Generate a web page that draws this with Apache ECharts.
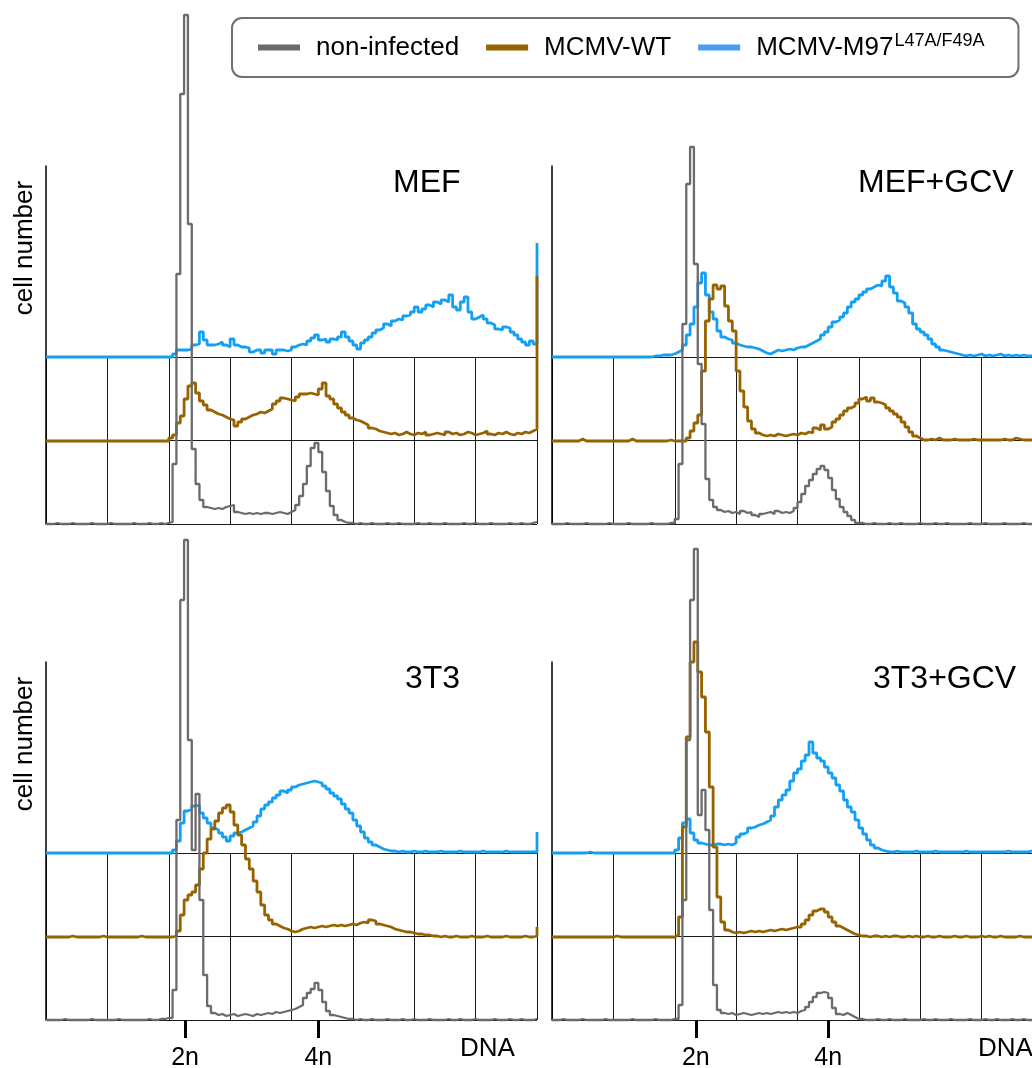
<!DOCTYPE html>
<html>
<head>
<meta charset="utf-8">
<script src="https://cdn.jsdelivr.net/npm/echarts@6/dist/echarts.min.js"></script>
<style>
html,body{margin:0;padding:0;background:#fff;}
#chart{width:1032px;height:1068px;}
</style>
</head>
<body>
<div id="chart"></div>
<script>
// ---------- DATA (histogram heights per 2-channel bin, 0..256 channels; 129 points) ----------
const panelTitles = ['MEF', 'MEF+GCV', '3T3', '3T3+GCV'];
const seriesNames = ['non-infected', 'MCMV-WT', 'MCMV-M97'];
const mutantSuperscript = 'L47A/F49A';
const yTitle = 'cell number';
const xTitle = 'DNA';
const tickLabels = ['2n', '4n'];
const tickValuesLeft = [72.5, 142];
const tickValuesRight = [75, 144];

// MEF
const mefNon = [0,0,1,0,0,0,1,0,0,0,0,1,0,0,0,0,1,0,0,0,0,0,1,0,0,0,1,0,0,1,0,1,
  2,60,250,430,509,300,75,40,24,17,16,15,16,15,17,18,
  19,12,11,10,11,10,11,10,11,11,10,11,12,11,10,12,
  14,19,28,40,58,76,81,72,52,33,18,9,4,2,1,1,
  0,1,0,0,1,0,0,0, 1,0,0,1,0,0,0,0, 1,0,0,1,0,0,0,1, 0,0,0,0,1,0,0,1, 0,0,0,1,0,0,0,0, 1,0,0,1,0,0,1,2,
  2];
const mefWT = [0,0,0,0,0,0,0,0,0,0,0,0,0,0,0,0,0,0,0,0,0,0,0,0,0,0,0,0,0,0,0,0,
  3,6,18,25,42,55,58,48,40,36,31,29,27,26,24,22,
  21,15,19,22,24,26,27,29,28,30,32,37,40,43,42,41,
  40,44,47,47,48,47,46,52,58,45,42,37,33,29,26,23,
  21,20,18,16,13,12,10,9,8,7,8,6,7,9,7,6,
  8,7,9,6,7,8,7,6,9,7,8,6,7,9,8,6,
  7,8,10,7,6,8,7,9,7,6,8,7,9,8,10,12,
  165];
const mefMut = [0,0,0,0,0,0,0,0,0,0,0,0,0,0,0,0,0,0,0,0,0,0,0,0,0,0,0,0,0,0,0,0,
  0,3,7,7,7,8,12,13,25,17,12,12,13,15,12,10,
  18,12,10,10,9,5,7,7,4,7,7,3,7,7,6,7,
  10,12,13,12,16,19,22,17,18,15,18,17,20,25,20,16,
  12,8,14,17,20,24,27,29,33,31,36,38,37,41,42,45,
  50,45,48,52,50,55,53,57,55,62,50,47,55,60,45,38,
  40,42,38,34,32,28,27,30,29,25,22,18,15,12,16,13,
  114];

// MEF + GCV
const gcvNon = [0,0,0,1,0,0,0,0,1,0,0,0,0,0,1,0,0,0,0,1,0,0,0,0,0,1,0,0,0,0,1,1,
  5,60,200,340,377,260,160,100,45,24,17,14,12,13,11,12,
  10,13,11,12,9,7,10,11,12,10,13,11,12,11,13,16,
  22,30,38,44,50,55,58,54,46,34,25,17,12,8,4,1,
  1,0,0,1,0,0,0,1, 0,0,1,0,0,0,0,1, 0,0,0,1,0,0,1,0, 0,0,0,0,1,0,0,0, 1,0,0,0,0,1,0,0, 0,0,1,0,0,0,0,1,
  1];
const gcvWT = [0,0,0,0,0,0,0,2,0,0,0,0,0,0,0,0,0,0,0,0,2,0,0,0,0,0,0,0,0,0,1,0,
  0,0,0,3,10,18,26,70,120,142,156,152,155,135,120,110,
  70,50,34,20,12,8,6,5,6,5,7,6,5,6,7,6,
  8,7,9,8,13,11,16,12,14,19,22,26,30,33,35,38,
  42,44,40,43,39,38,36,33,30,27,24,19,14,9,5,3,
  1,1,2,1,3,1,1,1,2,1,1,1,1,2,1,1,
  1,1,1,1,1,2,1,1,3,2,1,1,1,1,1,1,
  1];
const gcvMut = [0,0,0,0,0,0,0,0,0,0,0,0,0,0,0,0,0,0,0,0,0,0,0,0,0,0,1,1,2,2,2,3,
  5,7,12,22,33,50,74,84,62,45,38,26,20,18,17,14,
  12,11,10,10,9,8,6,4,3,5,7,6,7,8,7,9,
  10,10,12,14,16,18,22,25,30,35,37,40,44,50,55,58,
  62,65,68,70,72,71,76,81,70,64,56,54,50,44,33,28,
  25,22,18,13,10,7,6,5,4,3,2,1,2,1,2,3,
  1,2,1,2,3,1,2,1,2,1,2,1,1,2,1,2,
  2];

// 3T3
const t3Non = [0,0,0,0,1,0,0,0,0,0,0,1,0,0,0,0,0,0,1,0,0,0,0,0,0,0,1,0,0,1,1,2,
  2,30,200,420,480,280,170,226,120,45,14,7,5,6,4,5,
  6,4,5,6,5,4,6,5,6,7,6,8,7,8,9,10,
  11,13,15,22,27,31,37,30,18,9,5,4,3,2,1,1,
  0,1,0,0,1,0,0,0, 1,0,0,0,1,0,0,1, 0,0,0,1,0,0,0,0, 1,0,0,1,0,0,0,1, 0,0,0,0,1,0,0,0, 1,0,0,1,0,0,0,1,
  1];
const t3WT = [0,0,0,0,0,0,1,0,0,0,0,0,0,0,1,0,0,0,0,0,0,0,0,0,1,0,0,0,0,0,0,0,
  0,1,6,22,37,42,45,52,68,84,98,108,116,124,129,132,
  125,112,102,92,78,68,56,45,32,22,17,13,11,9,8,6,
  5,6,8,9,10,9,10,11,10,11,12,11,12,11,12,13,
  12,14,15,14,17,16,13,12,11,10,8,7,6,5,5,4,
  3,3,2,2,1,1,0,1,0,0,1,0,0,0,1,0,
  0,0,1,0,0,0,0,1,0,0,0,0,1,0,0,1,
  10];
const t3Mut = [0,0,0,0,0,0,0,0,0,0,0,0,0,0,0,0,0,0,0,0,0,0,0,0,0,0,0,0,0,0,0,0,
  0,3,12,30,42,44,47,48,40,35,30,25,23,20,16,12,
  17,20,21,23,25,27,31,37,44,48,51,55,58,62,60,63,
  66,68,69,70,71,72,71,70,67,64,60,57,54,49,44,40,
  33,27,21,15,11,8,6,4,3,2,2,1,2,1,1,2,
  1,1,2,1,1,1,2,1,1,1,1,2,1,1,1,1,
  1,2,1,1,1,1,1,2,1,1,1,1,1,1,1,1,
  21];

// 3T3 + GCV
const t3gNon = [0,0,1,0,0,0,0,1,0,0,0,0,0,1,0,0,0,0,0,0,1,0,0,0,0,0,1,0,0,0,0,1,
  1,15,120,280,420,471,205,230,190,110,35,10,7,6,7,5,
  6,7,6,5,6,7,6,7,6,7,8,7,8,7,8,7,
  9,10,13,18,23,27,28,27,22,12,6,5,7,5,3,1,
  1,0,0,0,1,0,0,1, 0,0,0,1,0,0,0,0, 1,0,0,1,0,0,0,1, 0,0,0,0,1,0,0,0, 1,0,0,1,0,0,0,1, 0,0,1,0,0,0,1,1,
  1];
const t3gWT = [0,0,0,0,0,0,0,0,0,0,0,0,0,0,0,0,1,0,0,0,0,0,0,0,0,0,0,0,0,0,0,0,
  2,20,110,200,275,295,265,240,205,150,90,40,15,7,5,4,
  5,4,5,6,5,6,5,6,7,6,7,8,7,8,9,10,
  10,13,17,22,26,28,28,25,20,15,11,9,7,5,3,2,
  1,1,0,1,1,0,1,0,1,1,0,0,1,0,1,0,
  0,1,0,0,1,0,0,0,1,0,0,1,0,0,0,1,
  0,1,0,0,1,0,0,0,0,1,0,0,0,1,0,1,
  1];
const t3gMut = [0,0,0,0,0,0,0,0,0,1,0,0,0,0,0,0,0,0,0,0,0,0,0,0,0,0,0,0,0,0,0,0,
  3,15,30,34,20,13,10,9,8,8,9,9,8,9,8,10,
  16,19,21,25,26,28,29,31,33,37,46,53,58,63,72,80,
  84,92,98,111,100,95,92,86,80,75,68,62,53,46,41,33,
  25,19,13,8,5,3,2,1,1,2,1,1,1,1,2,1,
  1,1,1,2,1,1,1,1,1,1,1,2,1,1,1,1,
  1,1,1,1,1,1,2,1,1,1,1,1,2,1,1,1,
  1];

// ---------- LAYOUT / STYLE ----------
const BIN = 2;            // channels per bin
const XMAX = 256;         // channels across the 8 grid columns
const YMAX = 358;         // axis height in count units
const OFF_WT = 83;        // vertical offset of the WT trace
const OFF_MUT = 167;      // vertical offset of the mutant trace
const COLORS = {non: '#6b6b6b', wt: '#976300', mut: '#14a0f2', mutLegend: '#4a9bf5'};
const FONT = '"Liberation Sans", Arial, Helvetica, sans-serif';

const panels = [
  {title: panelTitles[0], left: 46, top: 166, non: mefNon, wt: mefWT, mut: mefMut, ticks: null, titleX: 393},
  {title: panelTitles[1], left: 552, top: 166, non: gcvNon, wt: gcvWT, mut: gcvMut, ticks: null, titleX: 858},
  {title: panelTitles[2], left: 46, top: 662, non: t3Non, wt: t3WT, mut: t3Mut, ticks: tickValuesLeft, titleX: 405},
  {title: panelTitles[3], left: 552, top: 662, non: t3gNon, wt: t3gWT, mut: t3gMut, ticks: tickValuesRight, titleX: 873}
];
const PW = 491;

function build(h, off) { return h.map((v, i) => [i * BIN, v + off]); }

const grid = [], xAxis = [], yAxis = [], series = [], graphic = [];
panels.forEach((p, k) => {
  const gi = k * 2;
  grid.push({left: p.left, top: p.top, width: PW, height: YMAX, containLabel: false, outerBoundsMode: 'none'});
  grid.push({left: p.left, top: p.top + YMAX - OFF_MUT, width: PW, height: OFF_MUT, containLabel: false, outerBoundsMode: 'none'});
  const tv = p.ticks;
  xAxis.push({
    gridIndex: gi, type: 'value', min: 0, max: XMAX,
    axisLine: {show: false}, splitLine: {show: false},
    axisTick: tv ? {show: true, customValues: tv, length: 18, lineStyle: {color: '#000', width: 3}} : {show: false},
    axisLabel: tv ? {show: true, customValues: tv, margin: 26, fontSize: 25, color: '#000', fontFamily: FONT,
      formatter: v => tickLabels[tv.indexOf(v)]} : {show: false}
  });
  yAxis.push({gridIndex: gi, type: 'value', min: 0, max: YMAX,
    axisLine: {show: true, lineStyle: {color: '#000', width: 1.5}},
    axisTick: {show: false}, axisLabel: {show: false}, splitLine: {show: false}});
  xAxis.push({gridIndex: gi + 1, type: 'value', min: 0, max: XMAX, interval: 32,
    axisLine: {show: false}, axisTick: {show: false}, axisLabel: {show: false},
    splitLine: {show: true, lineStyle: {color: '#1a1a1a', width: 1}}});
  yAxis.push({gridIndex: gi + 1, type: 'value', min: 0, max: 2, interval: 1,
    axisLine: {show: false}, axisTick: {show: false}, axisLabel: {show: false},
    splitLine: {show: true, lineStyle: {color: '#1a1a1a', width: 1}}});
  const common = {type: 'line', xAxisIndex: gi, yAxisIndex: gi, step: 'end', showSymbol: false,
    symbol: 'none', clip: false, silent: true, animation: false};
  series.push(Object.assign({}, common, {name: seriesNames[2], data: build(p.mut, OFF_MUT), z: 3,
    lineStyle: {color: COLORS.mut, width: 2.8}, itemStyle: {color: COLORS.mut}}));
  series.push(Object.assign({}, common, {name: seriesNames[1], data: build(p.wt, OFF_WT), z: 4,
    lineStyle: {color: COLORS.wt, width: 2.8}, itemStyle: {color: COLORS.wt}}));
  series.push(Object.assign({}, common, {name: seriesNames[0], data: build(p.non, 0), z: 5,
    lineStyle: {color: COLORS.non, width: 2.3}, itemStyle: {color: COLORS.non}}));

  graphic.push({type: 'text', x: p.titleX, y: p.top + 17, z: 10,
    style: {text: p.title, fontSize: 32, fontFamily: FONT, fill: '#000', align: 'left', verticalAlign: 'middle'}});
  if (k % 2 === 0) {
    graphic.push({type: 'text', x: 25, y: p.top + 82, rotation: Math.PI / 2, z: 10,
      style: {text: yTitle, fontSize: 26, fontFamily: FONT, fill: '#000', align: 'center', verticalAlign: 'middle'}});
  }
  if (tv) {
    graphic.push({type: 'text', x: p.left + (k === 2 ? 414 : 426), y: p.top + YMAX + 29, z: 10,
      style: {text: xTitle, fontSize: 26, fontFamily: FONT, fill: '#000', align: 'left', verticalAlign: 'middle'}});
  }
});

const chart = echarts.init(document.getElementById('chart'), null, {renderer: 'canvas'});
chart.setOption({
  animation: false,
  backgroundColor: '#fff',
  grid, xAxis, yAxis, series, graphic,
  legend: {
    left: 232, top: 18, orient: 'horizontal', selectedMode: false,
    padding: [14, 34, 14, 26],
    borderColor: '#707070', borderWidth: 2, borderRadius: 10,
    itemWidth: 42, itemHeight: 6, itemGap: 27, icon: 'rect',
    data: [
      {name: seriesNames[0], itemStyle: {color: COLORS.non}},
      {name: seriesNames[1], itemStyle: {color: COLORS.wt}},
      {name: seriesNames[2], itemStyle: {color: COLORS.mutLegend}}
    ],
    formatter: n => n === seriesNames[2] ? '{b|' + n + '}{s|' + mutantSuperscript + '}' : '{b|' + n + '}',
    textStyle: {
      fontSize: 26, fontFamily: FONT, color: '#000', padding: [0, 0, 0, 11],
      rich: {
        b: {fontSize: 26, fontFamily: FONT, color: '#000', lineHeight: 32},
        s: {fontSize: 18, fontFamily: FONT, color: '#000', lineHeight: 32, padding: [0, 0, 13, 1]}
      }
    }
  }
});
</script>
</body>
</html>
